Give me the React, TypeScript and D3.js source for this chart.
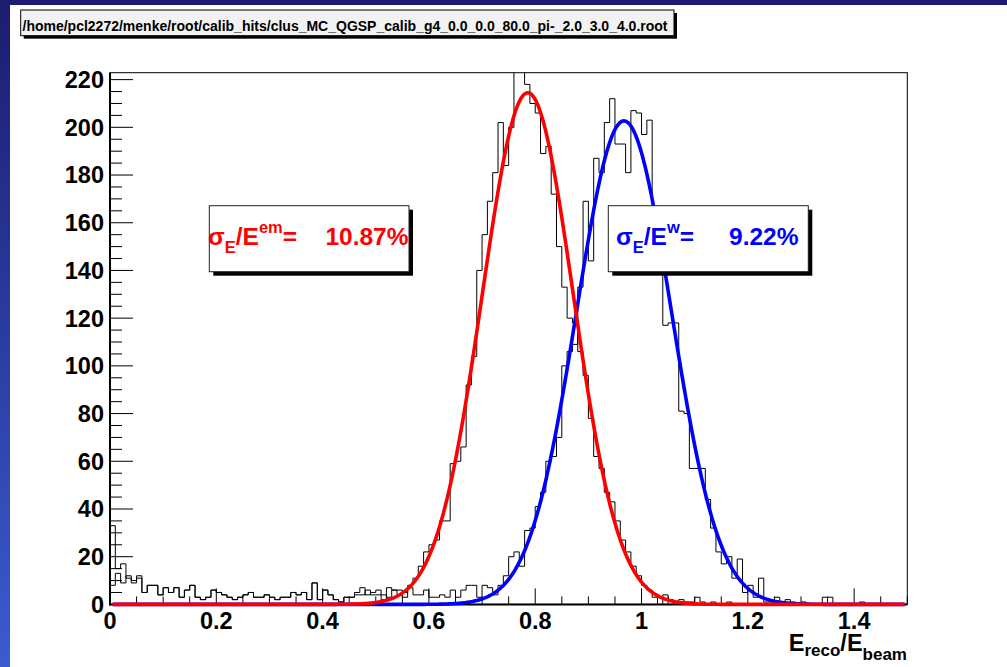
import React from 'react';
import * as d3 from 'd3';

// ---- data ----
const xLo = 0;
const xHi = 1.5;
const nBins = 150;
const xTickLabels = ['0', '0.2', '0.4', '0.6', '0.8', '1', '1.2', '1.4'];
const xTickValues = [0, 0.2, 0.4, 0.6, 0.8, 1.0, 1.2, 1.4];
const yTickValues = [0, 20, 40, 60, 80, 100, 120, 140, 160, 180, 200, 220];

// histogram of E_reco/E_beam at em scale (fitted in red)
const emCounts = [
  8, 13, 9, 12, 10, 12, 5, 8, 8, 4, 7, 5, 7, 3, 6, 8, 3, 2, 3, 6,
  5, 4, 3, 2, 3, 4, 5, 3, 3, 4, 3, 2, 3, 3, 5, 4, 5, 2, 9, 2,
  6, 4, 2, 1, 3, 3, 4, 4, 6, 4, 4, 2, 7, 6, 4, 5, 8, 11, 16, 22,
  25, 27, 35, 35, 59, 60, 66, 92, 104, 140, 155, 169, 181, 202, 184, 200, 235, 228, 218, 210,
  206, 189, 192, 172, 150, 133, 120, 118, 106, 96, 78, 62, 57, 47, 43, 35, 27, 22, 16, 12,
  8, 6, 3, 0, 4, 2, 0, 2, 1, 1, 3, 1, 0, 1, 0, 0, 1, 0, 0, 0,
  0, 0, 0, 0, 0, 0, 0, 0, 0, 0, 0, 0, 0, 0, 0, 0, 0, 0, 0, 0,
  0, 0, 0, 0, 0, 0, 0, 0, 0, 0,
];

// histogram at weighted scale (fitted in blue)
const wCounts = [
  33, 15, 17, 11, 9, 11, 5, 8, 8, 4, 7, 5, 7, 3, 6, 8, 3, 2, 3, 6,
  5, 4, 3, 2, 3, 4, 5, 3, 3, 4, 3, 2, 3, 3, 5, 4, 5, 2, 9, 2,
  6, 4, 2, 1, 3, 3, 5, 7, 4, 5, 6, 4, 3, 6, 6, 3, 7, 4, 4, 6,
  3, 3, 4, 3, 6, 3, 6, 8, 8, 3, 8, 7, 4, 8, 12, 20, 22, 16, 31, 32,
  41, 47, 60, 62, 70, 100, 106, 109, 133, 169, 144, 187, 181, 202, 212, 193, 193, 181, 207, 206,
  197, 203, 158, 150, 117, 118, 118, 81, 80, 57, 57, 57, 44, 32, 22, 17, 20, 11, 19, 5,
  8, 3, 11, 1, 1, 3, 1, 2, 1, 0, 1, 0, 0, 0, 3, 3, 0, 0, 0, 0,
  0, 1, 0, 0, 0, 0, 0, 0, 0, 0,
];

// gaussian fit parameters [constant, mean, sigma]
const emFit = [214.5, 0.786, 0.0855];
const wFit = [202.7, 0.967, 0.0892];
const fitRange = [0.005, 1.495];

const titleText = '/home/pcl2272/menke/root/calib_hits/clus_MC_QGSP_calib_g4_0.0_0.0_80.0_pi-_2.0_3.0_4.0.root';
const emValueText = '10.87%';
const wValueText = '9.22%';

// ---- layout ----
const W = 1007;
const H = 667;
const FL = 110;
const FR = 907.3;
const FT = 72.7;
const FB = 604.4;
const yMax = 222.9;
const FONT = "'Liberation Sans', Arial, Helvetica, sans-serif";

export default function App() {
  const x = d3.scaleLinear().domain([xLo, xHi]).range([FL, FR]);
  const y = d3.scaleLinear().domain([0, yMax]).range([FB, FT]);
  const binW = (xHi - xLo) / nBins;

  const histPath = (counts: number[]) => {
    const p = d3.path();
    p.moveTo(x(xLo), y(0));
    counts.forEach((c, i) => {
      p.lineTo(x(xLo + i * binW), y(c));
      p.lineTo(x(xLo + (i + 1) * binW), y(c));
    });
    p.lineTo(x(xLo + nBins * binW), y(0));
    return p.toString();
  };

  const gaus = (par: number[], v: number) => par[0] * Math.exp(-0.5 * ((v - par[1]) / par[2]) ** 2);
  const samples = d3.range(fitRange[0], fitRange[1] + 1e-9, 0.0025);
  const fitPath = (par: number[]) =>
    d3
      .line<number>()
      .x((v) => x(v))
      .y((v) => y(gaus(par, v)))(samples) as string;

  const yMinor = d3.range(0, yMax, 5);
  const xMinor = d3.range(0, xHi + 1e-9, 0.05);

  const labelSize = 23.5;

  return (
    <svg
      width={W}
      height={H}
      viewBox={`0 0 ${W} ${H}`}
      style={{ position: 'absolute', left: 0, top: 0, display: 'block' }}
      fontFamily={FONT}
    >
      <defs>
        <linearGradient id="leftband" x1="0" y1="0" x2="0" y2="1">
          <stop offset="0" stopColor="#1c1c70" />
          <stop offset="1" stopColor="#3a5cd0" />
        </linearGradient>
        <clipPath id="frameclip">
          <rect x={FL} y={FT} width={FR - FL} height={FB - FT + 4} />
        </clipPath>
      </defs>
      <rect x={0} y={0} width={W} height={H} fill="#ffffff" />
      <rect x={0} y={0} width={W} height={5} fill="#1c1c72" />
      <rect x={0} y={0} width={10} height={H} fill="url(#leftband)" />

      {/* title box */}
      <rect x={23.7} y={13} width={653.3} height={25.7} fill="#000" />
      <rect x={20.7} y={10} width={653.3} height={25.7} fill="#f2f2f2" stroke="#000" strokeWidth={1} />
      <text x={22.5} y={31} fontSize={14} fontWeight="bold" textLength={645} lengthAdjust="spacingAndGlyphs" fill="#000">
        {titleText}
      </text>

      {/* frame */}
      <rect x={FL} y={FT} width={FR - FL} height={FB - FT} fill="none" stroke="#000" strokeWidth={1} />
      <line x1={FL} y1={FT} x2={FL} y2={FB + 1} stroke="#000" strokeWidth={2} />
      <line x1={FL - 1} y1={FB} x2={FR} y2={FB} stroke="#000" strokeWidth={2} />

      {/* y ticks */}
      {yMinor.map((v) => {
        const major = v % 20 === 0;
        return (
          <line key={'yt' + v} x1={FL} x2={FL + (major ? 23 : 12)} y1={y(v)} y2={y(v)} stroke="#000" strokeWidth={1} />
        );
      })}

      {/* x ticks */}
      {xMinor.map((v, i) => {
        const major = i % 4 === 0;
        return (
          <line key={'xt' + i} x1={x(v)} x2={x(v)} y1={FB} y2={FB - (major ? 16 : 8)} stroke="#000" strokeWidth={1} />
        );
      })}

      {/* histograms and fits */}
      <g clipPath="url(#frameclip)">
        <path d={histPath(emCounts)} fill="none" stroke="#000" strokeWidth={1} />
        <path d={histPath(wCounts)} fill="none" stroke="#000" strokeWidth={1} />
        <path d={fitPath(wFit)} fill="none" stroke="#0000ff" strokeWidth={3.6} strokeLinejoin="round" />
        <path d={fitPath(emFit)} fill="none" stroke="#ff0000" strokeWidth={3.6} strokeLinejoin="round" />
      </g>

      {yTickValues.map((v) => (
        <text key={'yl' + v} x={104} y={y(v) + 8.4} textAnchor="end" fontSize={labelSize} fontWeight="bold" fill="#000">
          {String(v)}
        </text>
      ))}
      {xTickValues.map((v, i) => (
        <text key={'xl' + i} x={x(v)} y={628.5} textAnchor="middle" fontSize={labelSize} fontWeight="bold" fill="#000">
          {xTickLabels[i]}
        </text>
      ))}

      {/* x title */}
      <text x={907} y={651} textAnchor="end" fontSize={labelSize} fontWeight="bold" fill="#000">
        E
        <tspan fontSize={17} dy={5}>reco</tspan>
        <tspan fontSize={labelSize} dy={-5}>/E</tspan>
        <tspan fontSize={17} dy={9}>beam</tspan>
      </text>

      {/* em stat box */}
      <rect x={213.3} y={209.7} width={199.7} height={66} fill="#000" />
      <rect x={209.3} y={205.7} width={199.7} height={66} fill="#fff" stroke="#222" strokeWidth={1} />
      <text x={208} y={245} fontSize={24.5} fontWeight="bold" fill="#ff0000">
        σ
        <tspan fontSize={16.5} dy={8}>E</tspan>
        <tspan fontSize={24.5} dy={-8}>/E</tspan>
        <tspan fontSize={16.5} dy={-12}>em</tspan>
        <tspan fontSize={24.5} dy={12}>=</tspan>
      </text>
      <text x={408.5} y={245} textAnchor="end" fontSize={24.5} fontWeight="bold" fill="#ff0000">
        {emValueText}
      </text>

      {/* w stat box */}
      <rect x={612.3} y={209.7} width={200} height={66} fill="#000" />
      <rect x={608.3} y={205.7} width={200} height={66} fill="#fff" stroke="#222" strokeWidth={1} />
      <text x={616} y={245} fontSize={24.5} fontWeight="bold" fill="#0000ff">
        σ
        <tspan fontSize={16.5} dy={8}>E</tspan>
        <tspan fontSize={24.5} dy={-8}>/E</tspan>
        <tspan fontSize={16.5} dy={-12}>w</tspan>
        <tspan fontSize={24.5} dy={12}>=</tspan>
      </text>
      <text x={798.5} y={245} textAnchor="end" fontSize={24.5} fontWeight="bold" fill="#0000ff">
        {wValueText}
      </text>
    </svg>
  );
}
